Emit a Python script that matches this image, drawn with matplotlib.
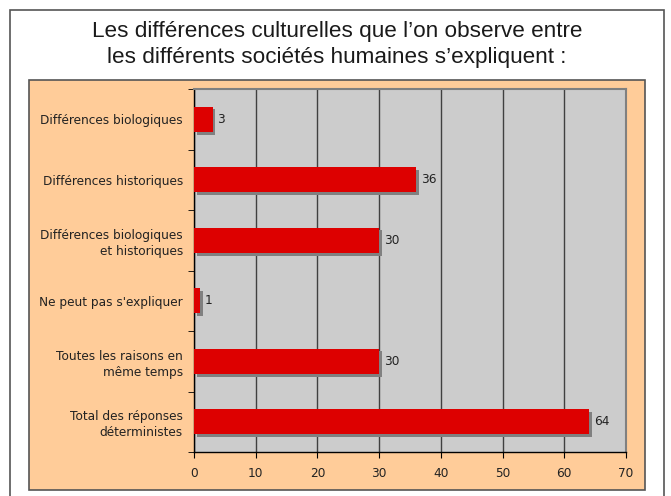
import matplotlib
matplotlib.use("Agg")
import matplotlib.pyplot as plt
from matplotlib.patches import Rectangle
import matplotlib.patheffects as pe

categories = [
    "Différences biologiques",
    "Différences historiques",
    "Différences biologiques\net historiques",
    "Ne peut pas s'expliquer",
    "Toutes les raisons en\nmême temps",
    "Total des réponses\ndéterministes",
]
values = [3, 36, 30, 1, 30, 64]
xticks = [0, 10, 20, 30, 40, 50, 60, 70]
title = "Les différences culturelles que l’on observe entre\nles différents sociétés humaines s’expliquent :"

W, H = 671, 496
fig = plt.figure(figsize=(W / 100, H / 100), dpi=100)
fig.patch.set_facecolor("white")

def box(x0, y0, x1, y1, **kw):
    # pixel coords with y from top
    r = Rectangle((x0 / W, 1 - y1 / H), (x1 - x0) / W, (y1 - y0) / H,
                  transform=fig.transFigure, **kw)
    fig.add_artist(r)
    return r

# outer frame
box(9.5, 9.5, 664, 500, facecolor="white", edgecolor="#555555", linewidth=1.2, zorder=0)
# orange panel
box(28.5, 79.5, 645, 490, facecolor="#FFCC99", edgecolor="#555555", linewidth=1.2, zorder=1)

fig.text(337 / W, 1 - 44.5 / H, title, ha="center", va="center",
         fontsize=16.2, family="Liberation Sans", color="#1a1a1a",
         linespacing=1.28, zorder=3)

left, right, top, bottom = 194, 626, 89, 452
ax = fig.add_axes([left / W, 1 - bottom / H, (right - left) / W, (bottom - top) / H], zorder=2)
ax.set_facecolor("#CCCCCC")

n = len(categories)
ypos = list(range(n))
bars = ax.barh(ypos, values, height=0.42, color="#DD0000", zorder=3)
for b in bars:
    b.set_path_effects([pe.SimplePatchShadow(offset=(2, -2), shadow_rgbFace="#808080", alpha=1.0),
                        pe.Normal()])
for y, v in zip(ypos, values):
    ax.text(v + 0.8, y, str(v), va="center", ha="left", fontsize=8.7,
            family="DejaVu Sans", color="#222222", zorder=4)

ax.set_xlim(0, 70)
ax.set_ylim(n - 0.5, -0.5)
ax.set_xticks(xticks)
ax.set_xticklabels([str(t) for t in xticks], fontsize=8.7, color="#222222")
ax.xaxis.grid(True, color="#404040", linewidth=1, zorder=1)
ax.set_axisbelow(True)

ax.set_yticks(ypos)
ax.set_yticklabels(categories, fontsize=8.7, color="#222222", ha="right", linespacing=1.3)
ax.tick_params(axis="y", length=0, pad=8)
ax.set_yticks([i - 0.5 for i in range(n + 1)], minor=True)
ax.tick_params(axis="y", which="minor", length=4, direction="out", color="black")
ax.tick_params(axis="x", length=4, direction="out", color="black", pad=7)

for s in ["left", "bottom"]:
    ax.spines[s].set_color("black")
    ax.spines[s].set_linewidth(1)
for s in ["top", "right"]:
    ax.spines[s].set_color("#808080")
    ax.spines[s].set_linewidth(1.5)

fig.savefig("out.png", dpi=100, facecolor="white")
